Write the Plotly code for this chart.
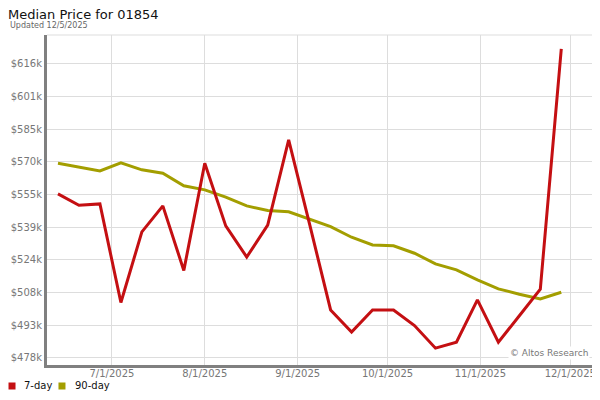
import plotly.graph_objects as go
import pandas as pd

# weekly points, Friday dates
dates = pd.date_range("2025-06-13", periods=25, freq="7D")

price_7day = [554900, 549600, 550200, 504000, 537100, 549300, 519000, 569300,
              539900, 525300, 540300, 580200, 540600, 500500, 490100, 500500,
              500500, 493200, 482600, 485400, 505200, 485400, 497800, 510300,
              622900]
price_90day = [569300, 567400, 565700, 569500, 566200, 564600, 558700, 556800,
               553400, 549300, 547100, 546500, 543100, 539600, 534600, 531000,
               530600, 527100, 522100, 519300, 514600, 510400, 507900, 505700,
               508800]

y_tick_vals = [478000 + i * 15330 for i in range(10)]
y_tick_text = ["$478k", "$493k", "$508k", "$524k", "$539k",
               "$555k", "$570k", "$585k", "$601k", "$616k"]
x_tick_vals = ["2025-07-01", "2025-08-01", "2025-09-01", "2025-10-01",
               "2025-11-01", "2025-12-01"]
x_tick_text = ["7/1/2025", "8/1/2025", "9/1/2025", "10/1/2025",
               "11/1/2025", "12/1/2025"]

RED = "#c40f12"
OLIVE = "#a39e00"
FONT = "DejaVu Sans"

fig = go.Figure()
fig.add_trace(go.Scatter(x=dates, y=price_90day, mode="lines",
                         line=dict(color=OLIVE, width=3), showlegend=False))
fig.add_trace(go.Scatter(x=dates, y=price_7day, mode="lines",
                         line=dict(color=RED, width=3), showlegend=False))

# legend squares only (labels are annotations so the spacing is tighter)
fig.add_trace(go.Scatter(x=[None], y=[None], mode="markers", name=" ",
                         legend="legend",
                         marker=dict(symbol="square", size=7, color=RED)))
fig.add_trace(go.Scatter(x=[None], y=[None], mode="markers", name=" ",
                         legend="legend2",
                         marker=dict(symbol="square", size=7, color=OLIVE)))

leg = dict(orientation="h", xref="paper", yref="container",
           y=0.036, xanchor="left", yanchor="middle", bgcolor="rgba(0,0,0,0)",
           font=dict(family=FONT, size=10, color="#111111"), itemwidth=30)
leg_font = dict(family=FONT, size=10, color="#111111")

# page body has an 8px margin, so the figure is 592x392
fig.update_layout(
    width=592, height=392,
    margin=dict(l=39, r=7, t=27, b=35, autoexpand=False),
    paper_bgcolor="white", plot_bgcolor="white",
    font=dict(family=FONT, size=10, color="#777777"),
    title=dict(text="Median Price for 01854", xref="container", yref="container",
               x=0, y=0.983, xanchor="left", yanchor="middle",
               font=dict(family=FONT, size=13, color="#111111")),
    legend=dict(leg, x=-0.1007),
    legend2=dict(leg, x=-0.0092),
    annotations=[
        dict(text="Updated 12/5/2025", xref="paper", yref="paper",
             x=-0.0714, y=1.03, xanchor="left", yanchor="middle", showarrow=False,
             font=dict(family=FONT, size=8, color="#666666")),
        dict(text="© Altos Research", xref="paper", yref="paper",
             x=0.995, y=0.036, xanchor="right", yanchor="middle", showarrow=False,
             bgcolor="white", font=dict(family=FONT, size=9, color="#777777")),
        dict(text="7-day", xref="paper", yref="paper", x=-0.0458, y=-0.0636,
             xanchor="left", yanchor="middle", showarrow=False, font=leg_font),
        dict(text="90-day", xref="paper", yref="paper", x=0.0476, y=-0.0636,
             xanchor="left", yanchor="middle", showarrow=False, font=leg_font),
    ],
    shapes=[
        dict(type="line", xref="paper", yref="paper", x0=0, x1=1, y0=1, y1=1,
             line=dict(color="#dddddd", width=1)),
        dict(type="line", xref="paper", yref="paper", x0=1, x1=1, y0=0, y1=1,
             line=dict(color="#dddddd", width=1)),
    ],
)

fig.update_xaxes(range=["2025-06-09 08:00", "2025-12-08 14:00"],
                 tickvals=x_tick_vals, ticktext=x_tick_text, automargin=False,
                 showgrid=True, gridcolor="#dddddd", gridwidth=1,
                 showline=True, linecolor="#808080", linewidth=3,
                 ticks="", zeroline=False, ticklabelstandoff=-3)
fig.update_yaxes(range=[474700, 629400],
                 tickvals=y_tick_vals, ticktext=y_tick_text, automargin=False,
                 showgrid=True, gridcolor="#dddddd", gridwidth=1,
                 showline=True, linecolor="#808080", linewidth=3,
                 ticks="", zeroline=False)

fig.write_html("out.html")
